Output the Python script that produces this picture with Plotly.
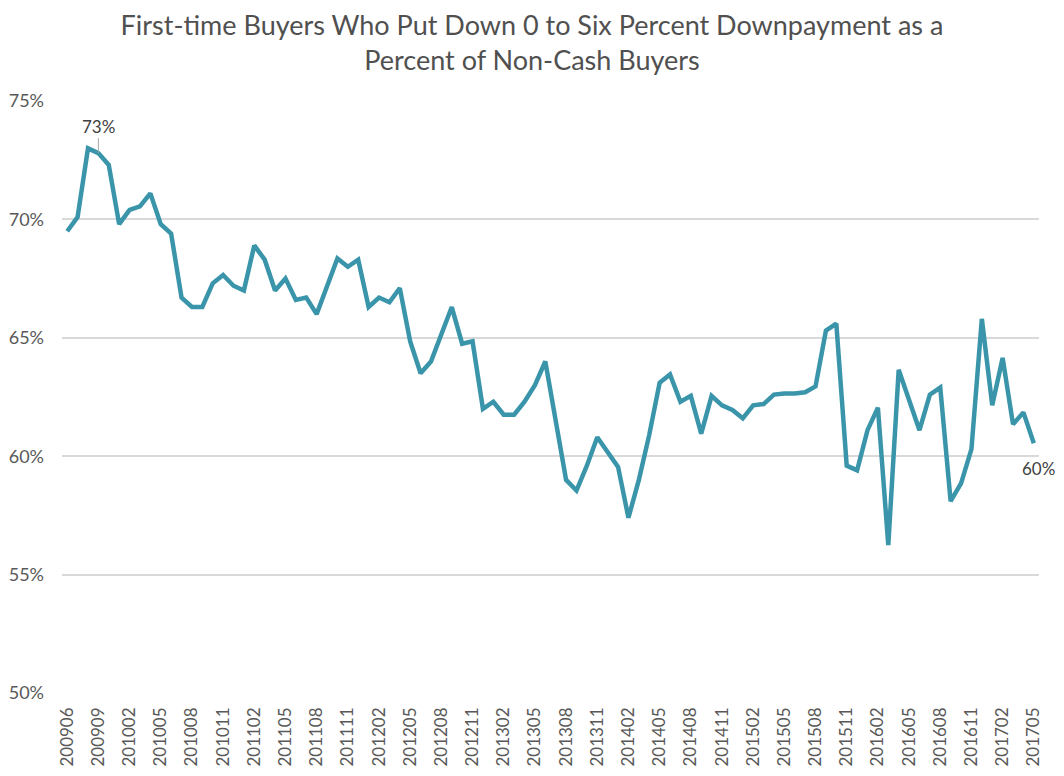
import plotly.graph_objects as go

months = ["200906", "200907", "200908", "200909", "200912", "201001"]
for y in range(2010, 2018):
    for m in range(1, 13):
        code = f"{y}{m:02d}"
        if "201002" <= code <= "201705":
            months.append(code)

values = [
    69.5, 70.1, 73.0, 72.8, 72.3, 69.8, 70.4, 70.55, 71.1, 69.8,
    69.4, 66.7, 66.3, 66.3, 67.3, 67.65, 67.2, 67.0, 68.9, 68.3,
    67.0, 67.5, 66.6, 66.7, 66.0, 67.2, 68.35, 68.0, 68.3, 66.3,
    66.7, 66.5, 67.1, 64.85, 63.5, 64.0, 65.1, 66.3, 64.75, 64.85,
    62.0, 62.3, 61.75, 61.75, 62.3, 63.0, 64.0, 61.4, 59.0, 58.55,
    59.6, 60.8, 60.2, 59.55, 57.4, 59.0, 60.9, 63.1, 63.45, 62.3,
    62.55, 60.95, 62.55, 62.15, 61.95, 61.6, 62.15, 62.2, 62.6, 62.65,
    62.65, 62.7, 62.95, 65.3, 65.6, 59.6, 59.4, 61.1, 62.05, 56.25,
    63.65, 62.4, 61.1, 62.6, 62.9, 58.1, 58.85, 60.3, 65.8, 62.15,
    64.15, 61.35, 61.85, 60.55,
]

tick_labels = months[::3]
y_ticks = [50, 55, 60, 65, 70, 75]
y_tick_text = ["50%", "55%", "60%", "65%", "70%", "75%"]
title_text = ("First-time Buyers Who Put Down 0 to Six Percent Downpayment as a<br>"
              "Percent of Non-Cash Buyers")
peak_label_idx = 3
last_idx = len(months) - 1

W, H = 1048, 760  # page body adds an 8px margin around the figure

fig = go.Figure()
fig.add_trace(go.Scatter(
    x=months, y=values, mode="lines",
    line=dict(color="#3A95AA", width=4.5),
    hoverinfo="skip",
))

fig.add_annotation(x=peak_label_idx, y=values[peak_label_idx], text="73%", showarrow=True,
                   arrowhead=0, arrowwidth=1, arrowcolor="#A6A6A6",
                   ax=0, ay=-27, font=dict(family="Lato", size=17, color="#404040"))
fig.add_annotation(x=last_idx, y=values[last_idx], text="60%", showarrow=False,
                   xshift=5, yshift=-25, font=dict(family="Lato", size=17, color="#404040"))

fig.update_layout(
    width=W, height=H,
    margin=dict(l=54, r=17, t=93, b=75, autoexpand=False),
    paper_bgcolor="white", plot_bgcolor="white",
    showlegend=False,
    title=dict(text=title_text, x=0.5, xanchor="center", xref="container",
               yref="container", y=1 - 27 / H, yanchor="middle",
               font=dict(family="Lato", size=27, color="#505050")),
    font=dict(family="Lato", color="#595959"),
)
fig.update_xaxes(
    type="category", range=[-0.5, len(months) - 0.5],
    tickmode="array", tickvals=tick_labels, ticktext=tick_labels,
    tickangle=-90, tickfont=dict(size=17, color="#595959"),
    showgrid=False, showline=False, ticks="", zeroline=False,
    ticklabelstandoff=10, automargin=False,
)
fig.update_yaxes(
    range=[50, 75], tickmode="array", tickvals=y_ticks, ticktext=y_tick_text,
    tickfont=dict(size=18, color="#595959"),
    showgrid=True, gridcolor="#D9D9D9", gridwidth=2,
    zeroline=False, showline=False, ticks="", ticklabelstandoff=17,
    automargin=False,
)

fig.write_html("out.html")
